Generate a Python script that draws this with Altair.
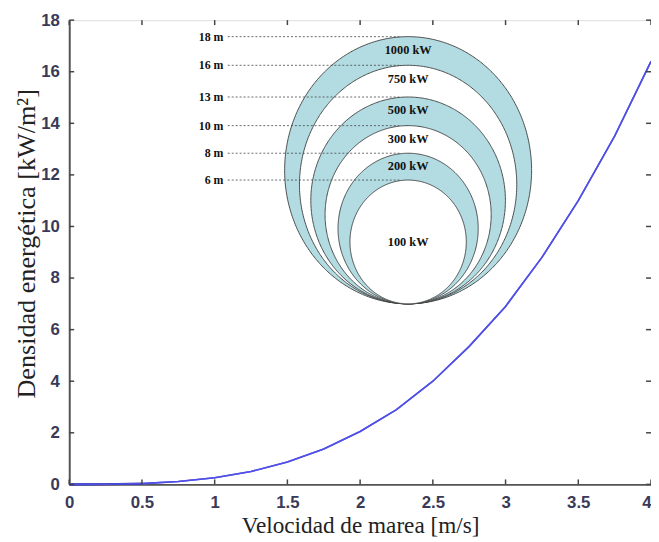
import altair as alt
import numpy as np
import pandas as pd

# --- main curve ---
speed = [0, 0.25, 0.5, 0.75, 1.0, 1.25, 1.5, 1.75, 2.0, 2.25, 2.5, 2.75, 3.0, 3.25, 3.5, 3.75, 4.0]
density = [0, 0.004, 0.03, 0.11, 0.26, 0.5, 0.87, 1.37, 2.05, 2.9, 4.0, 5.35, 6.9, 8.8, 11.0, 13.5, 16.4]

x_ticks = [0, 0.5, 1, 1.5, 2, 2.5, 3, 3.5, 4]
y_ticks = [0, 2, 4, 6, 8, 10, 12, 14, 16, 18]

# --- inset: turbine diameters / power rings (in chart units) ---
diam_labels = ["18 m", "16 m", "13 m", "10 m", "8 m", "6 m"]
power_labels = ["1000 kW", "750 kW", "500 kW", "300 kW", "200 kW", "100 kW"]
ring_tops = [17.36, 16.25, 15.02, 13.91, 12.84, 11.80]
ring_half_widths = [0.849, 0.747, 0.669, 0.571, 0.482, 0.40]
ring_fills = ["#b2dce2", "#ffffff", "#b2dce2", "#ffffff", "#b2dce2", "#ffffff"]
power_label_y = [16.85, 15.72, 14.5, 13.38, 12.35, 9.4]
ring_bottom = 7.0
ring_center_x = 2.33
label_x_diam = 1.06
dash_start_x = 1.09
dash_end_x = 2.27

W, H = 589, 470

xs = alt.Scale(domain=[0, 4], nice=False)
ys = alt.Scale(domain=[0, 18], nice=False)

curve_df = pd.DataFrame({"v": speed, "p": density})

base = alt.Chart(curve_df).mark_line(color="#5050e6", strokeWidth=1.6).encode(
    x=alt.X("v:Q", scale=xs,
            axis=alt.Axis(values=x_ticks, title="Velocidad de marea [m/s]", grid=False,
                          ticks=False, tickSize=0, labelPadding=10, format="~g",
                          labelAlign={"condition": {"test": "datum.value >= 4", "value": "right"}, "value": "center"},
                          labelFont="Liberation Sans", labelFontWeight="bold", labelFontSize=17,
                          labelColor="#3a3a58", domainColor="#555555", domainWidth=2,
                          titleFont="Liberation Serif", titleFontWeight="normal", titleFontSize=23.5,
                          titleColor="#222222", titlePadding=4, labelFlush=False)),
    y=alt.Y("p:Q", scale=ys,
            axis=alt.Axis(values=y_ticks, title="Densidad energética [kW/m²]", grid=False,
                          ticks=False, tickSize=0, labelPadding=10,
                          labelFont="Liberation Sans", labelFontWeight="bold", labelFontSize=17,
                          labelColor="#3a3a58", domainColor="#555555", domainWidth=2,
                          titleFont="Liberation Serif", titleFontWeight="normal", titleFontSize=26.5,
                          titleColor="#222222", titlePadding=0, titleY=226, labelFlush=False)),
)

dark_df = pd.DataFrame({"v": speed[:3], "p": density[:3]})
dark = alt.Chart(dark_df).mark_line(color="#2a2aa0", strokeWidth=2.2).encode(
    x=alt.X("v:Q", scale=xs), y=alt.Y("p:Q", scale=ys))

# ellipses as areas (upper/lower arcs)
rows = []
theta = np.linspace(np.pi, 0, 241)
for i, (top, a) in enumerate(zip(ring_tops, ring_half_widths)):
    b = (top - ring_bottom) / 2
    yc = ring_bottom + b
    for t in theta:
        rows.append({"ring": i, "x": ring_center_x + a * np.cos(t),
                     "ylo": yc - b * np.sin(t), "yhi": yc + b * np.sin(t)})
ell_df = pd.DataFrame(rows)

ellipses = []
for i in range(len(ring_tops)):
    ellipses.append(
        alt.Chart(ell_df[ell_df.ring == i]).mark_area(
            color=ring_fills[i], stroke="#3a3a3a", strokeWidth=0.9, opacity=1
        ).encode(x=alt.X("x:Q", scale=xs), y=alt.Y("ylo:Q", scale=ys), y2="yhi:Q")
    )

lab_df = pd.DataFrame({"d": diam_labels, "top": ring_tops, "p": power_labels, "py": power_label_y})
lab_df["x0"] = dash_start_x
lab_df["x1"] = dash_end_x
lab_df["xl"] = label_x_diam
lab_df["xc"] = ring_center_x

dashes = alt.Chart(lab_df).mark_rule(color="#444444", strokeWidth=0.8, strokeDash=[2, 2]).encode(
    x=alt.X("x0:Q", scale=xs), x2="x1:Q", y=alt.Y("top:Q", scale=ys))
dlabels = alt.Chart(lab_df).mark_text(align="right", baseline="middle", font="Liberation Serif",
                                      fontWeight="bold", fontSize=12, color="#111111").encode(
    x=alt.X("xl:Q", scale=xs), y=alt.Y("top:Q", scale=ys), text="d:N")
plabels = alt.Chart(lab_df).mark_text(align="center", baseline="middle", font="Liberation Serif",
                                      fontWeight="bold", fontSize=12.5, color="#111111").encode(
    x=alt.X("xc:Q", scale=xs), y=alt.Y("py:Q", scale=ys), text="p:N")

# inward ticks
xt = pd.DataFrame({"t": x_ticks})
yt = pd.DataFrame({"t": y_ticks})
tick_color = "#444444"
bt = alt.Chart(xt).mark_rule(color=tick_color, strokeWidth=1.5).encode(
    x=alt.X("t:Q", scale=xs), y=alt.value(H), y2=alt.value(H - 5))
tt = alt.Chart(xt).mark_rule(color=tick_color, strokeWidth=1.5).encode(
    x=alt.X("t:Q", scale=xs), y=alt.value(0), y2=alt.value(5))
lt = alt.Chart(yt).mark_rule(color=tick_color, strokeWidth=1.5).encode(
    y=alt.Y("t:Q", scale=ys), x=alt.value(0), x2=alt.value(5))
rt = alt.Chart(yt).mark_rule(color=tick_color, strokeWidth=1.5).encode(
    y=alt.Y("t:Q", scale=ys), x=alt.value(W - 5), x2=alt.value(W))

chart = alt.layer(base, *ellipses, dashes, dlabels, plabels, dark, base.encode(), bt, tt, lt, rt).properties(
    width=W, height=H,
    autosize=alt.AutoSizeParams(type="none"),
    padding={"left": 62, "top": 9, "right": 0, "bottom": 52},
).configure_view(stroke="#666666", strokeWidth=1.5).configure(background="white")

chart.save("out.html", embed_options={"renderer": "svg", "actions": False})
